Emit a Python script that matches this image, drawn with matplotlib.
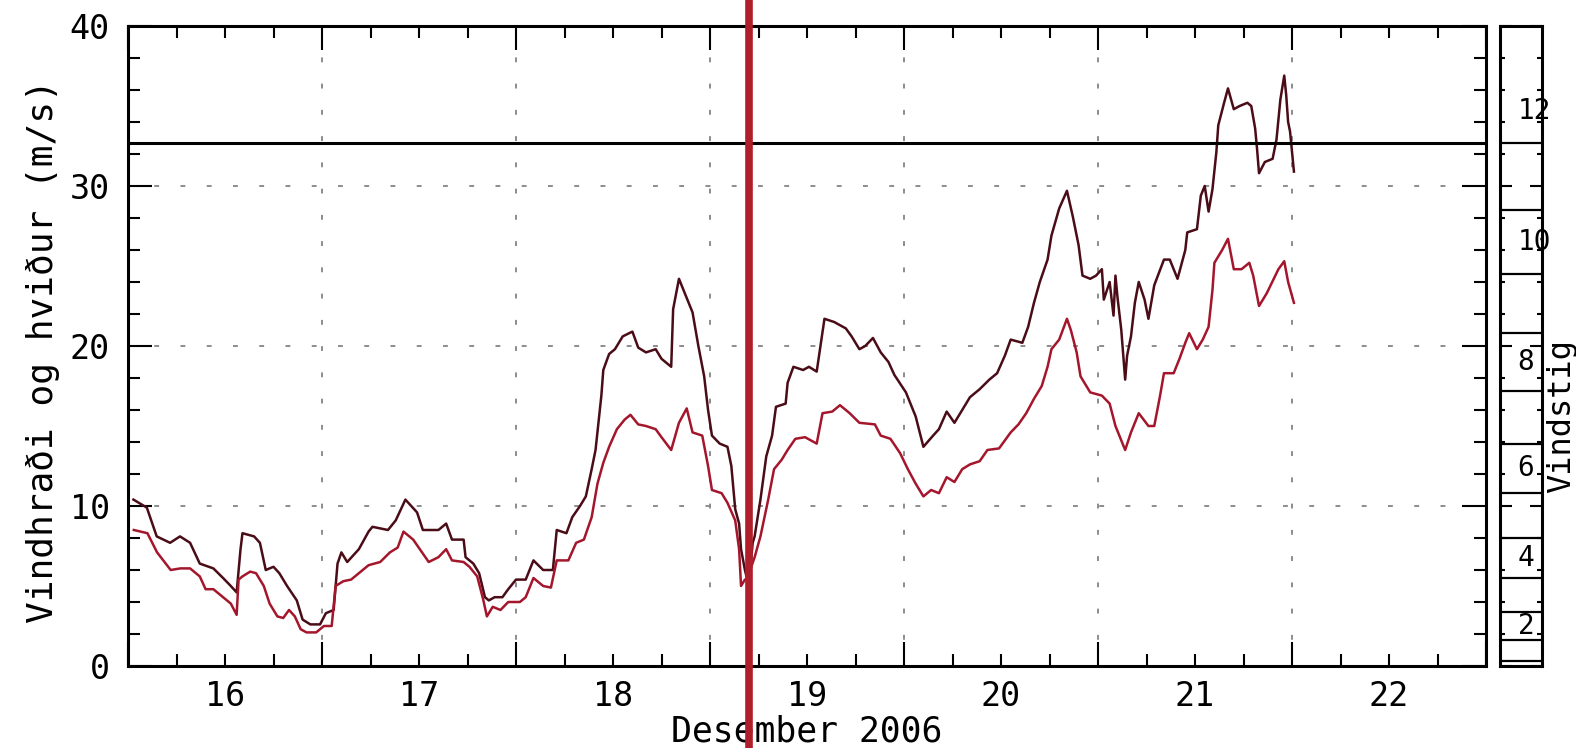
import matplotlib.pyplot as plt
import numpy as np
from matplotlib.ticker import FixedLocator, FuncFormatter, MultipleLocator, NullFormatter

plt.rcParams['font.family'] = 'DejaVu Sans Mono'

# December day numbers (fractional) and wind speeds in m/s
gust_day = [15.528, 15.597, 15.648, 15.717, 15.768, 15.82, 15.87, 15.94, 15.99, 16.03,
            16.06, 16.08, 16.09, 16.15, 16.18, 16.21, 16.25, 16.28, 16.32, 16.37,
            16.40, 16.44, 16.49, 16.52, 16.56, 16.58, 16.60, 16.63, 16.69, 16.74,
            16.76, 16.84, 16.88, 16.93, 16.99, 17.02, 17.10, 17.14, 17.17, 17.23,
            17.24, 17.28, 17.31, 17.34, 17.36, 17.39, 17.43, 17.46, 17.50, 17.55,
            17.59, 17.64, 17.69, 17.71, 17.76, 17.79, 17.83, 17.86, 17.89, 17.91,
            17.94, 17.95, 17.98, 18.01, 18.05, 18.10, 18.13, 18.17, 18.22, 18.25,
            18.30, 18.31, 18.34, 18.37, 18.41, 18.44, 18.47, 18.49, 18.51, 18.55,
            18.59, 18.61, 18.63, 18.65, 18.66, 18.68, 18.70, 18.72, 18.73, 18.76,
            18.79, 18.82, 18.84, 18.89, 18.90, 18.93, 18.98, 19.01, 19.05, 19.09,
            19.14, 19.20, 19.23, 19.27, 19.30, 19.34, 19.38, 19.42, 19.45, 19.51,
            19.56, 19.60, 19.65, 19.68, 19.72, 19.76, 19.81, 19.84, 19.89, 19.94,
            19.98, 20.02, 20.05, 20.11, 20.14, 20.17, 20.20, 20.24, 20.26, 20.30,
            20.34, 20.37, 20.40, 20.42, 20.46, 20.49, 20.52, 20.53, 20.56, 20.58,
            20.59, 20.60, 20.62, 20.64, 20.65, 20.67, 20.69, 20.71, 20.74, 20.76,
            20.79, 20.84, 20.87, 20.91, 20.95, 20.96, 21.01, 21.03, 21.05, 21.07,
            21.09, 21.11, 21.12, 21.15, 21.17, 21.20, 21.23, 21.27, 21.29, 21.31,
            21.32, 21.33, 21.36, 21.40, 21.42, 21.44, 21.46, 21.47, 21.48, 21.49,
            21.51]
gust_ms = [10.4, 9.9, 8.1, 7.7, 8.1, 7.7, 6.4, 6.1, 5.5, 5.0,
           4.6, 7.3, 8.3, 8.1, 7.7, 6.0, 6.2, 5.8, 5.0, 4.1,
           2.9, 2.6, 2.6, 3.3, 3.5, 6.4, 7.1, 6.5, 7.3, 8.4,
           8.7, 8.5, 9.1, 10.4, 9.6, 8.5, 8.5, 8.9, 7.9, 7.9,
           6.8, 6.4, 5.8, 4.3, 4.1, 4.3, 4.3, 4.8, 5.4, 5.4,
           6.6, 6.0, 6.0, 8.5, 8.3, 9.3, 10.0, 10.6, 12.3, 13.5,
           16.9, 18.5, 19.5, 19.8, 20.6, 20.9, 19.9, 19.6, 19.8, 19.2,
           18.7, 22.3, 24.2, 23.3, 22.1, 20.0, 18.1, 16.0, 14.4, 13.9,
           13.7, 12.5, 9.8, 8.9, 7.3, 6.0, 5.0, 7.7, 8.1, 10.4,
           13.1, 14.4, 16.2, 16.4, 17.7, 18.7, 18.5, 18.7, 18.4, 21.7,
           21.5, 21.1, 20.6, 19.8, 20.0, 20.5, 19.6, 19.0, 18.2, 17.1,
           15.6, 13.7, 14.4, 14.8, 15.9, 15.2, 16.2, 16.8, 17.3, 17.9,
           18.3, 19.4, 20.4, 20.2, 21.2, 22.7, 24.0, 25.4, 26.9, 28.6,
           29.7, 28.1, 26.3, 24.4, 24.2, 24.4, 24.8, 22.9, 24.0, 21.9,
           24.4, 23.1, 21.0, 17.9, 19.4, 20.6, 22.7, 24.0, 22.9, 21.7,
           23.8, 25.4, 25.4, 24.2, 26.0, 27.1, 27.3, 29.4, 30.0, 28.4,
           29.8, 32.1, 33.8, 35.2, 36.1, 34.8, 35.0, 35.2, 35.0, 33.6,
           32.3, 30.8, 31.5, 31.7, 32.9, 35.4, 36.9, 35.7, 34.0, 33.4,
           30.9]

wind_day = [15.53, 15.60, 15.65, 15.72, 15.77, 15.82, 15.87, 15.90, 15.94, 15.98,
            16.03, 16.06, 16.07, 16.09, 16.13, 16.16, 16.20, 16.23, 16.27, 16.30,
            16.33, 16.36, 16.39, 16.42, 16.47, 16.51, 16.55, 16.57, 16.61, 16.65,
            16.69, 16.74, 16.80, 16.85, 16.89, 16.92, 16.97, 17.01, 17.05, 17.10,
            17.14, 17.17, 17.23, 17.26, 17.30, 17.33, 17.35, 17.38, 17.42, 17.46,
            17.52, 17.55, 17.59, 17.64, 17.68, 17.71, 17.77, 17.81, 17.85, 17.89,
            17.92, 17.95, 17.98, 18.02, 18.06, 18.09, 18.13, 18.17, 18.22, 18.25,
            18.30, 18.34, 18.38, 18.41, 18.46, 18.49, 18.51, 18.56, 18.59, 18.63,
            18.65, 18.66, 18.68, 18.69, 18.73, 18.76, 18.80, 18.83, 18.87, 18.90,
            18.94, 18.99, 19.05, 19.08, 19.13, 19.17, 19.22, 19.27, 19.35, 19.38,
            19.43, 19.48, 19.52, 19.56, 19.60, 19.64, 19.68, 19.72, 19.76, 19.80,
            19.84, 19.89, 19.93, 19.99, 20.05, 20.09, 20.13, 20.17, 20.21, 20.24,
            20.26, 20.30, 20.34, 20.36, 20.39, 20.41, 20.46, 20.52, 20.56, 20.59,
            20.64, 20.67, 20.71, 20.76, 20.79, 20.82, 20.84, 20.89, 20.92, 20.95,
            20.97, 21.01, 21.04, 21.07, 21.09, 21.10, 21.14, 21.17, 21.20, 21.24,
            21.28, 21.30, 21.33, 21.37, 21.43, 21.46, 21.48, 21.51]
wind_ms = [8.5, 8.3, 7.1, 6.0, 6.1, 6.1, 5.6, 4.8, 4.8, 4.4,
           3.9, 3.2, 5.4, 5.6, 5.9, 5.8, 5.0, 3.9, 3.1, 3.0,
           3.5, 3.1, 2.3, 2.1, 2.1, 2.5, 2.5, 5.0, 5.3, 5.4,
           5.8, 6.3, 6.5, 7.1, 7.4, 8.4, 7.9, 7.2, 6.5, 6.8,
           7.3, 6.6, 6.5, 6.2, 5.6, 4.2, 3.1, 3.7, 3.5, 4.0,
           4.0, 4.3, 5.5, 5.0, 4.9, 6.6, 6.6, 7.7, 7.9, 9.3,
           11.4, 12.7, 13.7, 14.8, 15.4, 15.7, 15.1, 15.0, 14.8, 14.3,
           13.5, 15.2, 16.1, 14.6, 14.4, 12.5, 11.0, 10.8, 10.2, 9.1,
           7.3, 5.0, 5.4, 5.4, 6.8, 8.1, 10.4, 12.3, 12.9, 13.5,
           14.2, 14.3, 13.9, 15.8, 15.9, 16.3, 15.8, 15.2, 15.1, 14.4,
           14.2, 13.3, 12.3, 11.4, 10.6, 11.0, 10.8, 11.8, 11.5, 12.3,
           12.6, 12.8, 13.5, 13.6, 14.6, 15.1, 15.8, 16.7, 17.5, 18.7,
           19.8, 20.4, 21.7, 21.0, 19.6, 18.1, 17.1, 16.9, 16.4, 15.0,
           13.5, 14.6, 15.8, 15.0, 15.0, 16.9, 18.3, 18.3, 19.2, 20.2,
           20.8, 19.8, 20.4, 21.2, 23.5, 25.2, 26.0, 26.7, 24.8, 24.8,
           25.2, 24.4, 22.5, 23.3, 24.8, 25.3, 24.0, 22.7]

# Beaufort scale lower limits (m/s) and the labelled force numbers
bft_limits = [0.3, 1.6, 3.4, 5.5, 8.0, 10.8, 13.9, 17.2, 20.8, 24.5, 28.5, 32.7, 36.7]
bft_labels = [2, 4, 6, 8, 10, 12]
storm_limit = 32.7
event_day = 18.70

day_labels = [16, 17, 18, 19, 20, 21, 22]

fig = plt.figure(figsize=(15.76, 7.48), dpi=100)
ax = fig.add_axes([128 / 1576, 1 - 666 / 748, 1358 / 1576, 640 / 748])
bax = fig.add_axes([1500 / 1576, 1 - 666 / 748, 42 / 1576, 640 / 748])

ax.plot(gust_day, gust_ms, color='#4a0c16', lw=1.8, zorder=3)
ax.plot(wind_day, wind_ms, color='#a4162c', lw=1.8, zorder=3)
ax.axhline(storm_limit, color='black', lw=2.2, zorder=4)
ax.axvline(event_day, ymin=-0.14, ymax=1.05, clip_on=False,
           color='#b01e2c', lw=5.5, zorder=6)

ax.set_xlim(15.5, 22.5)
ax.set_ylim(0, 40)

# ticks: long ones at noon / tens, short ones every 6 h / 2 m/s, labels at midnight
ax.xaxis.set_major_locator(FixedLocator(np.arange(15.5, 22.6, 1.0)))
ax.xaxis.set_minor_locator(FixedLocator(np.arange(15.5, 22.6, 0.25)))
ax.xaxis.set_major_formatter(NullFormatter())
ax.xaxis.set_minor_formatter(FuncFormatter(
    lambda x, p: f'{x:.0f}' if round(x) in day_labels and abs(x - round(x)) < 1e-6 else ''))
ax.yaxis.set_major_locator(MultipleLocator(10))
ax.yaxis.set_minor_locator(MultipleLocator(2))

ax.tick_params(which='both', direction='in', top=True, right=True, width=1.5,
               labelsize=24, colors='black')
ax.tick_params(which='major', length=17)
ax.tick_params(which='minor', length=8.6)
ax.tick_params(axis='x', which='both', pad=10)
ax.tick_params(axis='y', which='both', pad=13)

ax.grid(True, which='major', color='#8c8c8c', lw=1.4, linestyle=(0, (2.5, 11)))
for s in ax.spines.values():
    s.set_linewidth(2.2)

ax.set_ylabel('Vindhraði og hviður (m/s)', fontsize=26)
ax.yaxis.set_label_coords(-0.050, 0.492)
ax.set_xlabel('Desember 2006', fontsize=25)
ax.xaxis.set_label_coords(0.5, -0.076)

# Beaufort strip on the right
bax.set_ylim(0, 40)
bax.set_xlim(0, 1)
bax.set_xticks([])
bax.yaxis.set_major_locator(MultipleLocator(10))
bax.yaxis.set_minor_locator(MultipleLocator(2))
bax.yaxis.set_major_formatter(NullFormatter())
bax.tick_params(which='both', direction='in', left=True, right=True, width=1.5)
bax.tick_params(which='major', length=8.6)
bax.tick_params(which='minor', length=3.6)
for s in bax.spines.values():
    s.set_linewidth(2.2)
for lim in bft_limits[:-1]:
    bax.axhline(lim, color='black', lw=1.6)
for n in bft_labels:
    mid = (bft_limits[n - 1] + bft_limits[n]) / 2
    bax.text(0.42, mid, str(n), transform=bax.get_yaxis_transform(),
             ha='left', va='center', fontsize=20, clip_on=False)

fig.text(1562 / 1576, 1 - 416 / 748, 'Vindstig', rotation=90,
         ha='center', va='center', fontsize=23)

fig.savefig('out.png', dpi=100)
